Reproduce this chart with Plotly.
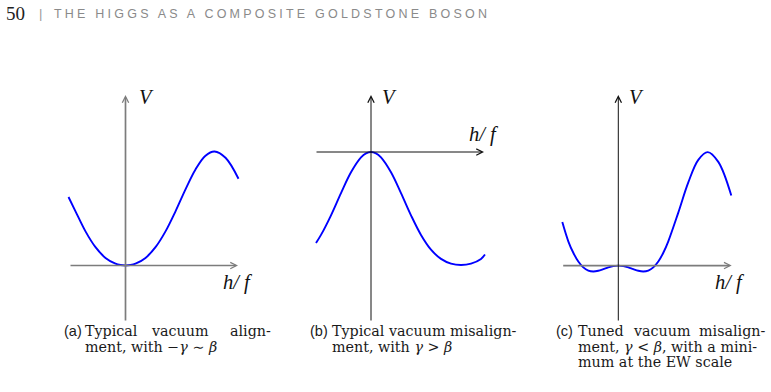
import plotly.graph_objects as go

W, H = 771, 392

# ---------------- data (arbitrary units) ----------------
# (a) typical vacuum alignment
h_a = [-57, -50, -40, -30, -20, -10, -5, 0, 5, 10, 20, 30, 40, 50, 60, 70, 80, 89, 100, 113]
V_a = [68.5, 54.2, 34.1, 18.3, 7.6, 1.8, 0.45, 0, 0.45, 1.8, 7.6, 18.3, 34.1, 54.2, 76.2, 96.1, 109.8, 114, 107.7, 86.7]

# (b) typical vacuum misalignment
h_b = [-55, -50, -40, -30, -20, -10, -5, 0, 5, 10, 20, 30, 40, 50, 60, 70, 80, 90, 100, 110, 114]
V_b = [-91, -82.9, -63.3, -41.1, -20.3, -5.4, -1.4, 0, -1.4, -5.4, -20.3, -41.1, -63.3, -82.9,
       -97.6, -106.9, -111.6, -113, -111.6, -106.9, -102.5]

# (c) tuned vacuum misalignment
h_c = [-56, -50, -45, -40, -35, -30, -25, -20, -15, -10, -5, 0, 5, 10, 15, 20, 25, 30, 35, 40, 45,
       50, 60, 70, 80, 89.4, 100, 113]
V_c = [43.5, 24.3, 12.8, 4.1, -1.8, -4.95, -5.87, -5.16, -3.57, -1.81, -0.49, 0, -0.49, -1.81, -3.57,
       -5.16, -5.87, -4.95, -1.8, 4.1, 12.8, 24.3, 53.0, 83.2, 105.8, 113.5, 103.7, 70]

axis_label_x = "h/ f"
axis_label_y = "V"
header_page = "50"
header_title = "THE HIGGS AS A COMPOSITE GOLDSTONE BOSON"

# ---------------- layout helpers ----------------
def px(x):
    return x / W


def py(y):
    return 1 - y / H


CURVE = "#0000ff"
GRAY = "#7c7c7c"
BLACK = "#111111"

# panel origins in pixels, axis extents (data units), axis colours
panels = [
    dict(h=h_a, V=V_a, ox=125.5, oy=265.5, xax=(-56.5, 112.5), yax=(-56.5, 170.5),
         xcol=GRAY, ycol=GRAY),
    dict(h=h_b, V=V_b, ox=371.0, oy=152.0, xax=(-56.0, 113.0), yax=(-170.0, 57.0),
         xcol=BLACK, ycol=BLACK),
    dict(h=h_c, V=V_c, ox=618.3, oy=265.6, xax=(-56.6, 113.4), yax=(-56.4, 170.6),
         xcol=GRAY, ycol=BLACK),
]

fig = go.Figure()
layout = dict(
    width=W, height=H, margin=dict(l=0, r=0, t=0, b=0),
    paper_bgcolor="white", plot_bgcolor="rgba(0,0,0,0)",
    showlegend=False, annotations=[],
)

TOP, BOT = 92, 325
for i, p in enumerate(panels):
    k = "" if i == 0 else str(i + 1)
    xl, xr = -62, 118
    layout["xaxis" + k] = dict(
        domain=[px(p["ox"] + xl), px(p["ox"] + xr)], range=[xl, xr],
        visible=False, fixedrange=True, anchor="y" + k,
    )
    layout["yaxis" + k] = dict(
        domain=[py(BOT), py(TOP)], range=[p["oy"] - BOT, p["oy"] - TOP],
        visible=False, fixedrange=True, anchor="x" + k,
    )
    fig.add_trace(go.Scatter(
        x=p["h"], y=p["V"], mode="lines",
        line=dict(color=CURVE, width=1.9, shape="spline", smoothing=1.0),
        xaxis="x" + k, yaxis="y" + k, hoverinfo="skip",
    ))
    # axis arrows (horizontal then vertical)
    for (hx, hy, tx, ty, col) in [
        (p["xax"][1], 0, p["xax"][0], 0, p["xcol"]),
        (0, p["yax"][1], 0, p["yax"][0], p["ycol"]),
    ]:
        wdt = 1.7 if col == GRAY else 1.0
        layout["annotations"].append(dict(
            x=hx, y=hy, ax=tx, ay=ty, xref="x" + k, yref="y" + k,
            axref="x" + k, ayref="y" + k, text="", showarrow=True,
            arrowhead=5, arrowsize=1.25 / wdt, arrowwidth=wdt, arrowcolor=col,
            standoff=0, startstandoff=0,
        ))

# axis labels (positions in pixels)
MATH = dict(family="Liberation Serif", size=20.5, color="#111111", style="italic")
label_pos = [
    ((137, 97), (221, 282)),
    ((380, 97), (467, 134)),
    ((627, 97), (713, 282)),
]
for (vx, vy), (hx, hy) in label_pos:
    layout["annotations"].append(dict(
        x=px(vx), y=py(vy), xref="paper", yref="paper", text=axis_label_y,
        showarrow=False, xanchor="left", yanchor="middle", font=MATH))
    layout["annotations"].append(dict(
        x=px(hx), y=py(hy), xref="paper", yref="paper", text=axis_label_x,
        showarrow=False, xanchor="left", yanchor="middle", font=MATH))

# captions
CAP = dict(family="DejaVu Serif", size=14.3, color="#1a1a1a")
SUB = dict(family="Liberation Sans", size=14.5, color="#1a1a1a")
L1, L2, L3 = 331, 346.5, 362


def txt(x, y, s, font, anchor="left"):
    layout["annotations"].append(dict(
        x=px(x), y=py(y), xref="paper", yref="paper", text=s, showarrow=False,
        xanchor=anchor, yanchor="middle", align=anchor, font=font))


g = "<i>\u03b3</i>"
b = "<i>\u03b2</i>"
# (a)
txt(62, L1, "(a)", SUB)
txt(83, L1, "Typical", CAP)
txt(180, L1, "vacuum", CAP, "center")
txt(273, L1, "align-", CAP, "right")
txt(83, L2, "ment, with \u2212" + g + " \u223c " + b, CAP)
# (b)
txt(308, L1, "(b)", SUB)
txt(330, L1, "Typical vacuum misalign-", CAP)
txt(330, L2, "ment, with " + g + " &gt; " + b, CAP)
# (c)
txt(554, L1, "(c)", SUB)
txt(576, L1, "Tuned", CAP)
txt(662, L1, "vacuum", CAP, "center")
txt(767, L1, "misalign-", CAP, "right")
txt(576, L2, "ment, " + g + " &lt; " + b + ", with a mini-", CAP)
txt(576, L3, "mum at the EW scale", CAP)

# running header
txt(4, 14, header_page, dict(family="Liberation Serif", size=19, color="#222222"))
txt(37, 14, "|", dict(family="Liberation Sans", size=13, color="#9a9a9a"))
txt(52, 14, header_title, dict(family="Liberation Sans", size=12.5, color="#8a8a8a"))

fig.update_layout(**layout)

js = """
(function(){
  var gd = document.getElementById('{plot_id}');
  function fix(){
    gd.querySelectorAll('text').forEach(function(t){
      if (t.textContent.indexOf('THE HIGGS') === 0 && !t.getAttribute('data-ls')) {
        t.style.letterSpacing = '0px';
        var w = t.getComputedTextLength();
        var n = t.textContent.length;
        var ls = (433 - w) / (n - 1);
        t.style.letterSpacing = ls + 'px';
        t.setAttribute('data-ls', '1');
      }
    });
  }
  fix();
  setTimeout(fix, 30);
  if (gd.on) { gd.on('plotly_afterplot', fix); }
})();
"""

fig.write_html("out.html", config={"displayModeBar": False, "staticPlot": True}, post_script=js)
